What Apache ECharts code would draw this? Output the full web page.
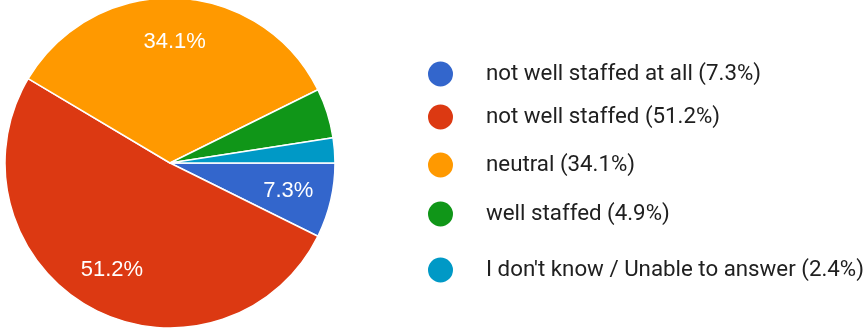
<!DOCTYPE html>
<html>
<head>
<meta charset="utf-8">
<script src="https://cdn.jsdelivr.net/npm/echarts@6/dist/echarts.min.js"></script>
<style>
  html, body { margin: 0; padding: 0; background: #fff; }
  #chart { width: 868px; height: 328px; }
</style>
</head>
<body>
<div id="chart"></div>
<script>
// Survey responses: how well staffed is the team?
const categories = [
  'not well staffed at all',
  'not well staffed',
  'neutral',
  'well staffed',
  "I don't know / Unable to answer"
];
const responses = [3, 21, 14, 2, 1];
const colors = ['#3366cc', '#dc3912', '#ff9900', '#109618', '#0099c6'];

const total = responses.reduce((a, b) => a + b, 0);
const pct = v => (v / total * 100).toFixed(1);

const pieData = categories.map((name, i) => ({ name, value: responses[i] }));

// one legend block per entry so each row can sit at its own height
const legendRowsY = [73, 116, 164, 213, 269];
const legends = categories.map((name, i) => ({
  data: [name],
  left: 426,
  top: legendRowsY[i] - 13.5,
  padding: 0,
  icon: 'circle',
  itemWidth: 27,
  itemHeight: 27,
  selectedMode: false,
  formatter: n => `${n} (${pct(responses[categories.indexOf(n)])}%)`,
  textStyle: {
    fontFamily: 'Roboto',
    fontSize: 22.3,
    color: '#202020',
    padding: [0, 0, 0, 27]
  }
}));

const chart = echarts.init(document.getElementById('chart'), null, { renderer: 'canvas' });
chart.setOption({
  animation: false,
  color: colors,
  legend: legends,
  series: [
    {
      type: 'pie',
      center: [170, 163],
      radius: [0, 165],
      startAngle: 0,
      clockwise: true,
      data: pieData,
      label: { show: false },
      labelLine: { show: false },
      itemStyle: { borderColor: '#ffffff', borderWidth: 1.5 },
      emphasis: { disabled: true }
    },
    {
      // label ring: places the percentage text well out toward the rim
      type: 'pie',
      center: [170, 163],
      radius: [72, 165],
      startAngle: 0,
      clockwise: true,
      silent: true,
      minShowLabelAngle: 20,
      data: pieData,
      itemStyle: { color: 'transparent', borderWidth: 0 },
      label: {
        show: true,
        position: 'inside',
        formatter: p => `${pct(p.value)}%`,
        color: '#ffffff',
        fontFamily: 'Liberation Sans, Arial, sans-serif',
        fontSize: 22
      },
      labelLine: { show: false },
      emphasis: { disabled: true }
    }
  ]
});
</script>
</body>
</html>
